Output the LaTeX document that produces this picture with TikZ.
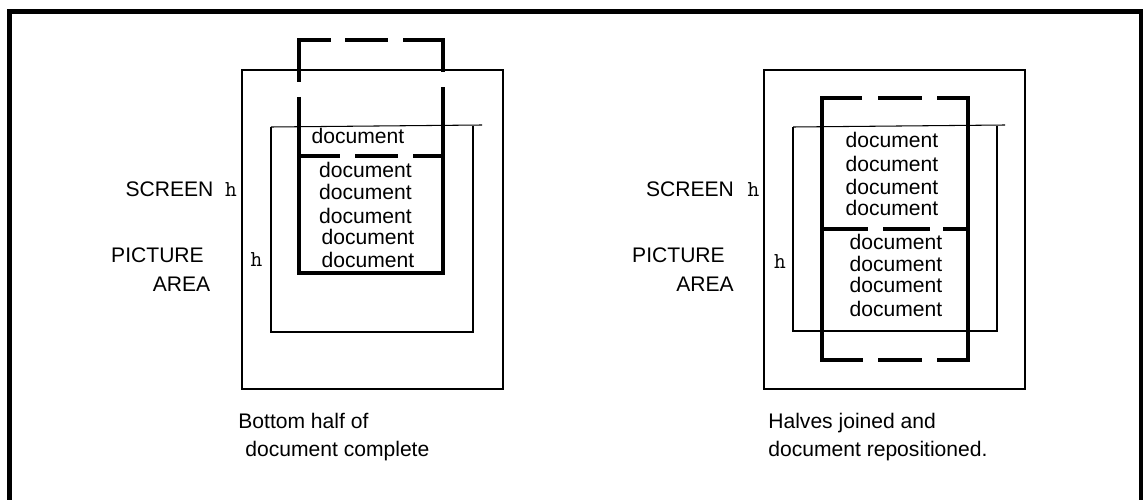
\documentclass[tikz,border=0pt]{standalone}
\usepackage{fontspec}
\setmainfont{Liberation Sans}

\begin{document}
\begin{tikzpicture}[x=0.02cm,y=-0.02cm,
  txt/.style={inner sep=0pt,font=\fontsize{12}{14}\selectfont},
  hl/.style={inner sep=0pt,font=\ttfamily\fontsize{13}{15}\selectfont},
  frame/.style={line width=2.8pt},
  box/.style={line width=1.2pt},
  rim/.style={line width=0.6pt},
  heavy/.style={line width=2.4pt}]
\useasboundingbox (0,0) rectangle (1143,500);
\draw[frame] (9.5,500) -- (9.5,11.5) -- (1141,11.5) -- (1141,500);

% left: bottom half done
\draw[box] (242,70) rectangle (503,389);
\draw[box] (271,127) -- (271,332) -- (473,332) -- (473,126);
\draw[rim] (271,127) -- (482,125);
\draw[heavy] (299,82) -- (299,40) -- (331,40);
\draw[heavy] (345,40) -- (388,40);
\draw[heavy] (403,40) -- (443,40) -- (443,72);
\draw[heavy] (299,97) -- (299,273) -- (443,273) -- (443,87);
\foreach \a/\b in {299/340,355/398,413/443} \draw[heavy] (\a,156) -- (\b,156);
\node[txt] (ltop) at (358,135.5) {document};
\foreach \x/\y [count=\i] in {365.5/170,365.5/191.5,365.5/215.5,368/237,368/260}
  \node[txt] (ldoc\i) at (\x,\y) {document};
\node[txt] (lscr) at (169.5,189.5) {SCREEN};
\node[hl]  (lhs)  at (231,189.5) {h};
\node[txt] (lpic) at (157.5,255) {PICTURE};
\node[txt] (larea) at (181.5,284.5) {AREA};
\node[hl]  (lhp)  at (256.5,260) {h};
\node[txt,anchor=base west] (lcap1) at (238,428) {Bottom half of};
\node[txt,anchor=base west] (lcap2) at (245,456) {document complete};

% right: halves joined
\draw[box] (764,70) rectangle (1025,389);
\draw[box] (793,127) -- (793,331) -- (997,331) -- (997,126);
\draw[rim] (793,127) -- (1005,125);
\draw[heavy] (862,98) -- (822,98) -- (822,360) -- (863,360);
\draw[heavy] (937,98) -- (968,98) -- (968,360) -- (937,360);
\draw[heavy] (878,98) -- (922,98);
\draw[heavy] (878,360) -- (922,360);
\foreach \a/\b in {822/868,883/930,943/968} \draw[heavy] (\a,229) -- (\b,229);
\foreach \x/\y [count=\i] in {892/140,892/164,892/187,892/207.5,896/242,896/264,896/284.5,896/309}
  \node[txt] (rdoc\i) at (\x,\y) {document};
\node[txt] (rscr) at (690,189.5) {SCREEN};
\node[hl]  (rhs)  at (753.5,189.5) {h};
\node[txt] (rpic) at (678.5,255) {PICTURE};
\node[txt] (rarea) at (705,284.5) {AREA};
\node[hl]  (rhp)  at (780,262) {h};
\node[txt,anchor=base west] (rcap1) at (768,428) {Halves joined and};
\node[txt,anchor=base west] (rcap2) at (768,456) {document repositioned.};
\end{tikzpicture}
\end{document}
